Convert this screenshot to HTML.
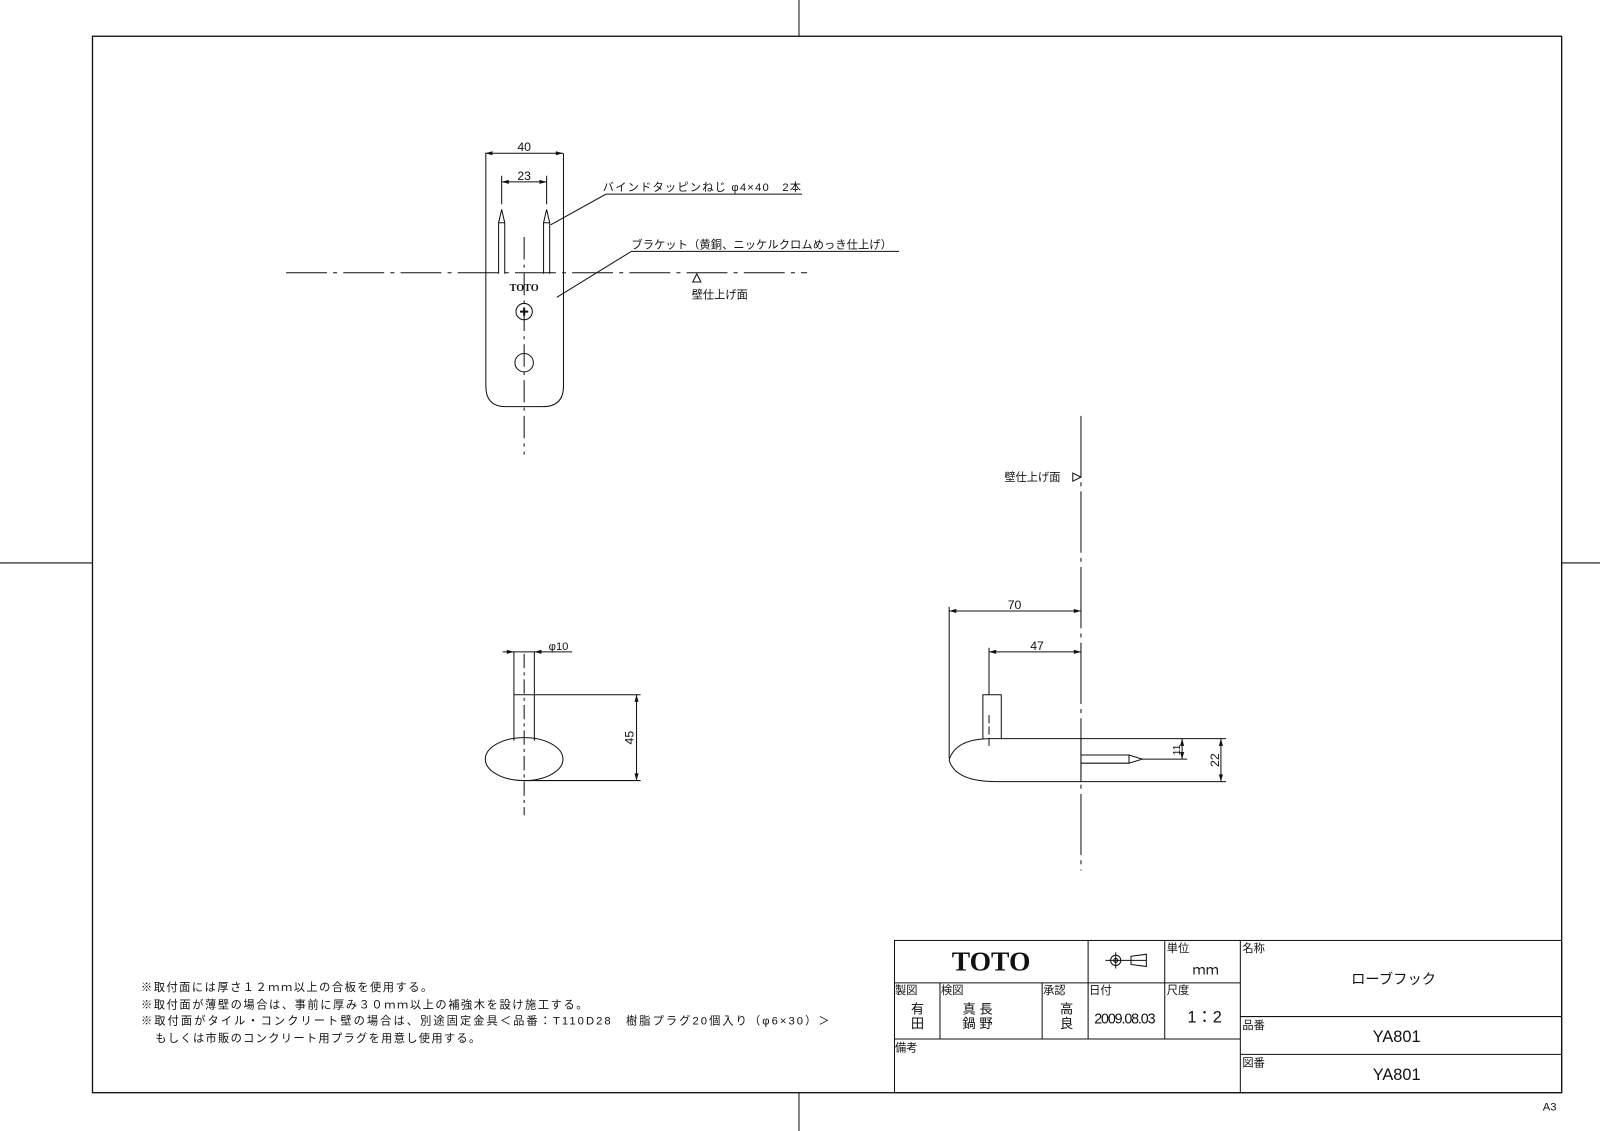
<!DOCTYPE html>
<html><head><meta charset="utf-8"><style>
html,body{margin:0;padding:0;background:#fff;}
svg{display:block}
text{font-family:"Liberation Sans","Noto Sans CJK JP",sans-serif;fill:#111}
</style></head><body>
<svg width="1600" height="1131" viewBox="0 0 1566 1107" xmlns="http://www.w3.org/2000/svg">
<g stroke="#111" fill="none" stroke-width="1">
<rect x="90.5" y="35.5" width="1438" height="1034" stroke-width="1.3"/>
<line x1="782" y1="0" x2="782" y2="35"/>
<line x1="782" y1="1069" x2="782" y2="1107"/>
<line x1="0" y1="551" x2="90" y2="551"/>
<line x1="1528" y1="551" x2="1566" y2="551"/>

<path d="M475.5 150 V378 Q475.5 398 495 398 H531 Q551.5 398 551.5 378 V150"/>
<line x1="475" y1="150" x2="551" y2="150"/>
<line x1="491" y1="178" x2="535" y2="178"/>
<line x1="491" y1="172" x2="491" y2="200"/>
<line x1="535" y1="172" x2="535" y2="200"/>
<path d="M488 268 V218 L491 205 L494 218 V268 M488 218 H494"/>
<path d="M532 268 V218 L535 205 L538 218 V268 M532 218 H538"/>
<line x1="280" y1="267" x2="790" y2="267" stroke-dasharray="40,6,4,6"/>
<line x1="513" y1="232" x2="513" y2="445" stroke-dasharray="22,5,3,5"/>
<circle cx="513" cy="305" r="8"/>
<path d="M509 305 H517 M513 301 V309" stroke-width="2"/>
<circle cx="513" cy="355" r="9"/>
<path d="M539 220 L593 190 H785"/>
<path d="M545 291 L618 246 H880"/>
<path d="M678 276 L682 268 L686 276 Z"/>

<line x1="503" y1="638" x2="503" y2="725"/>
<line x1="523" y1="638" x2="523" y2="725"/>
<line x1="503" y1="680" x2="523" y2="680"/>
<line x1="492" y1="638" x2="560" y2="638"/>
<ellipse cx="513" cy="743" rx="38" ry="21"/>
<line x1="513" y1="640" x2="513" y2="798" stroke-dasharray="14,4,3,4"/>
<line x1="523" y1="680" x2="627" y2="680"/>
<line x1="513" y1="764" x2="627" y2="764"/>
<line x1="623" y1="680" x2="623" y2="764"/>

<line x1="1058" y1="407" x2="1058" y2="852" stroke-dasharray="60,5,4,5"/>
<path d="M1050 463 L1058 467 L1050 471 Z"/>
<line x1="929" y1="594" x2="929" y2="742"/>
<line x1="929" y1="598" x2="1058" y2="598"/>
<line x1="968" y1="638" x2="1058" y2="638"/>
<line x1="968" y1="634" x2="968" y2="680"/>
<path d="M962 723 V680 H980 V723"/>
<line x1="968" y1="700" x2="968" y2="732" stroke-dasharray="8,3"/>
<path d="M970 723 H1058 V765 H975 Q935 765 929 744 Q935 723 970 723"/>
<line x1="1058" y1="723" x2="1200" y2="723"/>
<line x1="1058" y1="765" x2="1200" y2="765"/>
<path d="M1058 739 H1105 L1118 743 L1105 747 H1058 M1105 739 V747"/>
<line x1="1118" y1="743" x2="1162" y2="743"/>
<line x1="1157" y1="723" x2="1157" y2="743"/>
<line x1="1195" y1="723" x2="1195" y2="765"/>

<rect x="875.5" y="920.5" width="653" height="149"/>
<line x1="875" y1="962" x2="1214" y2="962"/>
<line x1="875" y1="1017" x2="1214" y2="1017"/>
<line x1="1065" y1="920" x2="1065" y2="1017"/>
<line x1="1140" y1="920" x2="1140" y2="1017"/>
<line x1="1214" y1="920" x2="1214" y2="1069"/>
<line x1="920" y1="962" x2="920" y2="1017"/>
<line x1="1020" y1="962" x2="1020" y2="1017"/>
<line x1="1214" y1="995" x2="1528" y2="995"/>
<line x1="1214" y1="1032" x2="1528" y2="1032"/>
<circle cx="1092" cy="940" r="5"/><circle cx="1092" cy="940" r="2"/>
<path d="M1082 940 H1122 M1092 932 V948 M1107 936 L1122 934 V946 L1107 944 Z"/>
</g>
<g fill="#111">
<path d="M475 150 l7 -2 v4z M551 150 l-7 -2 v4z M491 178 l7 -2 v4z M535 178 l-7 -2 v4z"/>
<path d="M503 638 l-7 -2 v4z M523 638 l7 -2 v4z M623 680 l-2 7 h4z M623 764 l-2 -7 h4z"/>
<path d="M929 598 l7 -2 v4z M1058 598 l-7 -2 v4z M968 638 l7 -2 v4z M1058 638 l-7 -2 v4z"/>
<path d="M1157 723 l-2 7 h4z M1157 743 l-2 -7 h4z M1195 723 l-2 7 h4z M1195 765 l-2 -7 h4z"/>
</g>
<g font-size="11">
<text x="513" y="148" text-anchor="middle" font-size="12">40</text>
<text x="513" y="176" text-anchor="middle" font-size="12">23</text>
<text x="590" y="187" textLength="194">バインドタッピンねじ φ4×40　2本</text>
<text x="618" y="243" textLength="255">ブラケット（黄銅、ニッケルクロムめっき仕上げ）</text>
<text x="677" y="292">壁仕上げ面</text>
<text x="513" y="285" text-anchor="middle" style="font-family:'Liberation Serif',serif;font-weight:bold;font-size:10px">TOTO</text>
<text x="983" y="471">壁仕上げ面</text>
<text x="537" y="636">φ10</text>
<text transform="translate(620 722) rotate(-90)" text-anchor="middle" font-size="12">45</text>
<text x="993" y="596" text-anchor="middle" font-size="12">70</text>
<text x="1015" y="636" text-anchor="middle" font-size="12">47</text>
<text transform="translate(1155 734) rotate(-90)" text-anchor="middle" font-size="10">11</text>
<text transform="translate(1193 744) rotate(-90)" text-anchor="middle" font-size="12">22</text>
<text x="138" y="970" textLength="285">※取付面には厚さ１２ｍｍ以上の合板を使用する。</text>
<text x="138" y="987" textLength="437">※取付面が薄壁の場合は、事前に厚み３０ｍｍ以上の補強木を設け施工する。</text>
<text x="138" y="1003" textLength="674">※取付面がタイル・コンクリート壁の場合は、別途固定金具＜品番：T110D28　樹脂プラグ20個入り（φ6×30）＞</text>
<text x="152" y="1020" textLength="318">もしくは市販のコンクリート用プラグを用意し使用する。</text>
<text x="970" y="950" text-anchor="middle" style="font-family:'Liberation Serif',serif;font-weight:bold;font-size:27px">TOTO</text>
<text x="1142" y="932">単位</text>
<text x="1180" y="954" text-anchor="middle" font-size="13">ｍｍ</text>
<text x="876" y="973">製図</text>
<text x="921" y="973">検図</text>
<text x="1021" y="973">承認</text>
<text x="1066" y="973">日付</text>
<text x="1142" y="973">尺度</text>
<text x="898" y="992" text-anchor="middle" font-size="13">有</text>
<text x="898" y="1006" text-anchor="middle" font-size="13">田</text>
<text x="942" y="992" font-size="13">真 長</text>
<text x="942" y="1006" font-size="13">鍋 野</text>
<text x="1044" y="992" text-anchor="middle" font-size="13">高</text>
<text x="1044" y="1006" text-anchor="middle" font-size="13">良</text>
<text x="1101" y="1002" text-anchor="middle" font-size="14" textLength="60">2009.08.03</text>
<text x="1179" y="1001" text-anchor="middle" font-size="16">1：2</text>
<text x="876" y="1029">備考</text>
<text x="1216" y="932">名称</text>
<text x="1364" y="963" text-anchor="middle" font-size="14">ローブフック</text>
<text x="1216" y="1007">品番</text>
<text x="1367" y="1020" text-anchor="middle" font-size="16">YA801</text>
<text x="1216" y="1044">図番</text>
<text x="1367" y="1057" text-anchor="middle" font-size="16">YA801</text>
<text x="1510" y="1087" font-size="11">A3</text>
</g>
</svg>
</body></html>
